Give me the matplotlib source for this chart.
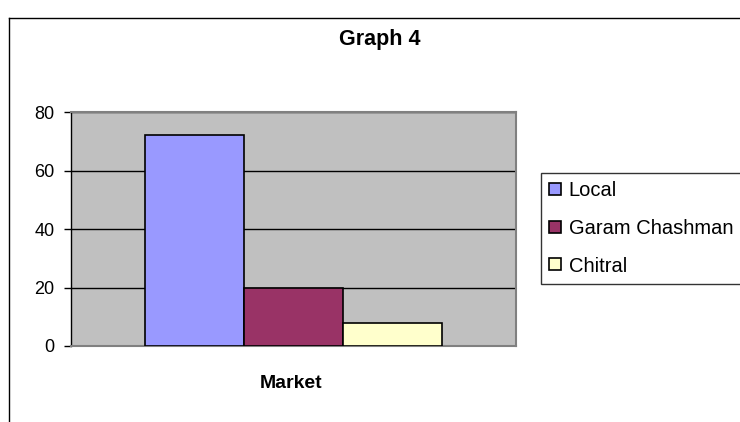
import matplotlib.pyplot as plt
from matplotlib.lines import Line2D

plt.rcParams['font.family'] = ['Liberation Sans', 'DejaVu Sans']

# data
series = ['Local', 'Garam Chashman', 'Chitral']
values = [72, 20, 8]
colors = ['#9999FF', '#993366', '#FFFFCC']
category = 'Market'
title = 'Graph 4'
yticks = [0, 20, 40, 60, 80]

W, H = 740, 422
fig = plt.figure(figsize=(W / 100, H / 100), dpi=100)

# plot area in pixel coords: x 71..516, y 112..346
ax = fig.add_axes([71 / W, 1 - 346 / H, (516 - 71) / W, (346 - 112) / H])
ax.set_facecolor('#C0C0C0')

offsets = [-1, 0, 1]
bars = []
for off, v, c, name in zip(offsets, values, colors, series):
    b = ax.bar(off, v, width=1, color=c, edgecolor='black', linewidth=1.2,
               label=name, zorder=3)
    bars.append(b)

half = (445 / 2) / 99
ax.set_xlim(-half, half)
ax.set_ylim(0, 80)
ax.set_yticks(yticks)
ax.set_xticks([])
ax.yaxis.grid(True, color='black', linewidth=1, zorder=1)
ax.set_axisbelow(True)

for s in ['top', 'right', 'bottom']:
    ax.spines[s].set_color('#808080')
    ax.spines[s].set_linewidth(1.5)
ax.spines['left'].set_color('black')
ax.spines['left'].set_linewidth(1)
ax.tick_params(axis='y', direction='out', length=5, width=1, labelsize=13, pad=7)

fig.text(380 / W, 1 - 40 / H, title, ha='center', va='center',
         fontsize=15.5, fontweight='bold')
fig.text(291 / W, 1 - 384 / H, category, ha='center', va='center',
         fontsize=14, fontweight='bold')

# outer chart border (top and left edges visible)
fig.add_artist(Line2D([9 / W, 1.0], [1 - 18 / H, 1 - 18 / H], color='black',
                      linewidth=1, transform=fig.transFigure))
fig.add_artist(Line2D([9 / W, 9 / W], [1 - 18 / H, 0], color='black',
                      linewidth=1, transform=fig.transFigure))

leg = fig.legend(handles=[b[0] for b in bars], labels=series,
                 loc='upper left',
                 bbox_to_anchor=(541 / W, 1 - 283 / H, 0.4, (283 - 173) / H),
                 mode='expand', frameon=True, fancybox=False, fontsize=14.5,
                 handlelength=0.55, handleheight=0.55, handletextpad=0.4,
                 labelspacing=0.92, borderpad=0.42, borderaxespad=0)
leg.get_frame().set_edgecolor('black')
leg.get_frame().set_linewidth(1)

fig.savefig('out.png', dpi=100)
